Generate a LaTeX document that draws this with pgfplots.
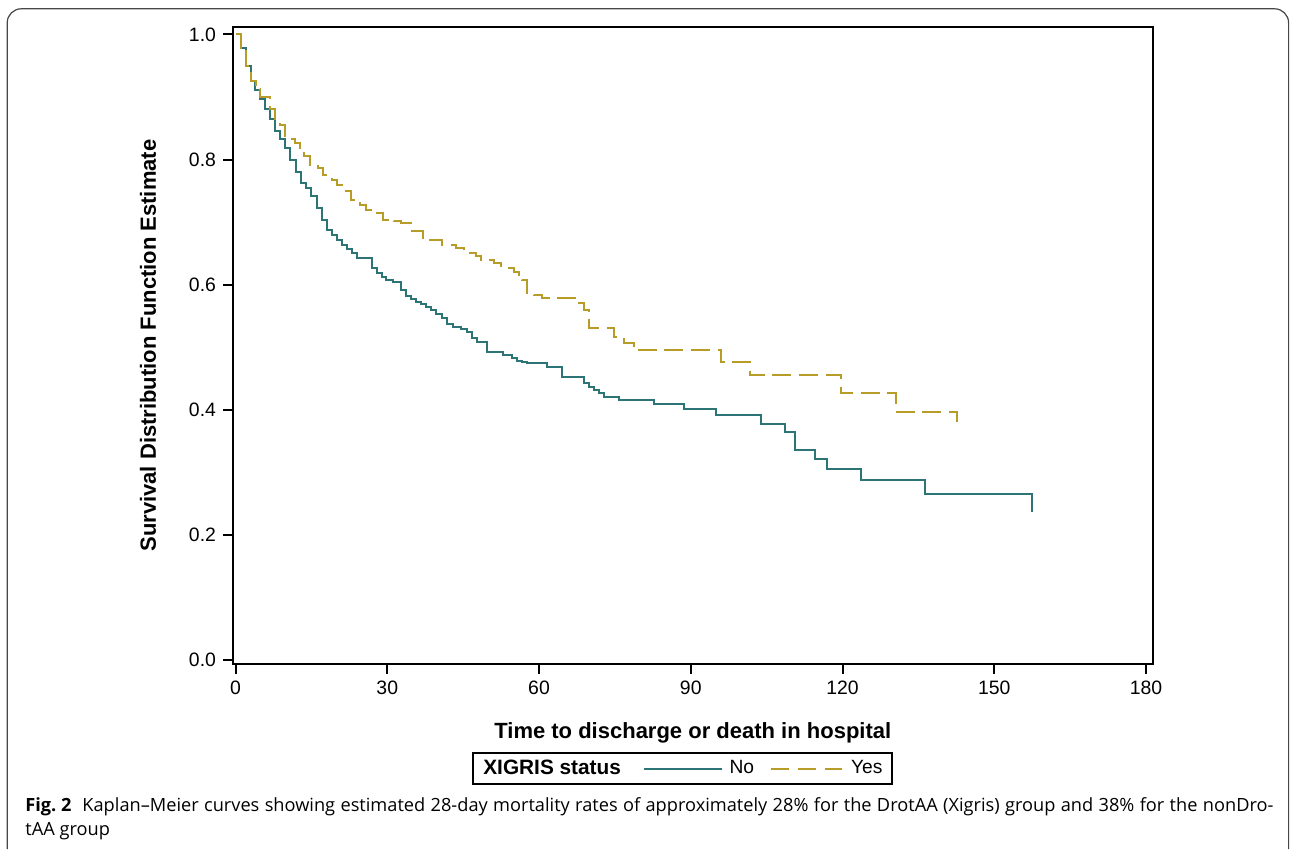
\documentclass[border=0pt]{standalone}
\usepackage{pgfplots}
\pgfplotsset{compat=1.18}
\usepackage{pgfplotstable}
\usepackage{fontspec}
\setmainfont{Liberation Sans}
\newfontfamily\capfont{Open Sans}
\definecolor{tealc}{RGB}{44,116,118}
\definecolor{goldc}{RGB}{184,156,40}
\definecolor{framec}{RGB}{70,70,70}
\pgfplotsset{
  nolegimg/.style={legend image code/.code={\draw[##1] (0pt,0pt) -- (38.8pt,0pt);}},
  yeslegimg/.style={legend image code/.code={\draw[##1, dash pattern=on 9pt off 4.5pt] (0pt,0pt) -- (35.5pt,0pt);}},
}

\pgfplotstableread{
t s
0 1.000
1.1 0.979
2.1 0.949
3.1 0.925
3.9 0.911
4.9 0.896
5.9 0.880
6.8 0.864
7.8 0.845
8.8 0.833
9.8 0.819
10.8 0.800
12.0 0.780
13.0 0.763
14.0 0.755
15.0 0.742
16.1 0.722
17.0 0.704
18.0 0.688
19.0 0.680
20.0 0.672
21.0 0.664
22.0 0.657
23.0 0.650
24.0 0.643
27.0 0.627
28.0 0.619
29.0 0.612
29.8 0.608
31.2 0.604
32.7 0.592
33.7 0.582
34.7 0.577
35.7 0.573
36.6 0.569
37.6 0.564
38.6 0.559
39.6 0.553
40.9 0.547
41.9 0.537
43.0 0.533
44.5 0.529
45.8 0.525
46.8 0.515
47.8 0.508
49.8 0.492
52.8 0.487
54.7 0.483
55.7 0.478
56.7 0.476
57.7 0.474
61.6 0.469
64.6 0.453
68.8 0.443
69.9 0.436
70.9 0.431
71.8 0.426
72.8 0.420
75.8 0.415
82.7 0.410
88.6 0.402
94.9 0.391
103.8 0.378
108.7 0.364
110.7 0.335
114.5 0.321
116.9 0.306
123.7 0.288
136.4 0.266
157.4 0.236
}\noData

\pgfplotstableread{
t s
0 1.000
1.1 0.979
2.1 0.949
3.1 0.925
4.0 0.912
4.9 0.900
6.8 0.881
7.8 0.864
8.8 0.855
9.8 0.837
10.8 0.833
11.8 0.827
12.8 0.819
13.5 0.805
14.8 0.792
16.3 0.786
17.2 0.776
19.0 0.768
20.0 0.759
21.9 0.749
22.8 0.736
23.8 0.733
24.7 0.728
25.7 0.720
27.8 0.715
29.1 0.704
31.4 0.701
32.7 0.698
34.7 0.686
37.0 0.675
38.3 0.672
40.9 0.664
43.5 0.658
45.2 0.653
45.9 0.651
47.5 0.645
48.5 0.640
51.0 0.635
52.4 0.629
53.7 0.627
55.0 0.620
56.0 0.613
56.7 0.608
57.7 0.587
59.0 0.584
60.5 0.579
68.0 0.571
68.9 0.560
69.9 0.530
74.9 0.516
76.8 0.507
78.7 0.495
95.9 0.476
101.8 0.455
119.7 0.426
130.5 0.397
142.7 0.369
}\yesData

\begin{document}
\begin{tikzpicture}
\useasboundingbox (0,0) rectangle (645pt,-425pt);
\draw[framec, line width=0.6pt, rounded corners=7pt] (3.6pt,-424.6pt) -- (3.6pt,-4.4pt) -- (644.3pt,-4.4pt) -- (644.3pt,-424.6pt);
\begin{axis}[
  at={(116.5pt,-13.6pt)}, anchor=north west,
  scale only axis, width=459.8pt, height=318.4pt,
  xmin=-0.5, xmax=181.3, ymin=-0.0064, ymax=1.0115,
  xtick={0,30,...,180}, ytick={0,0.2,...,1.0},
  xtick pos=left, ytick pos=left,
  tick align=outside, major tick length=5pt,
  axis line style={black, line width=1pt},
  every tick/.style={black, line width=1pt},
  tick label style={font=\fontsize{9.7}{11}\selectfont},
  /pgf/number format/assume math mode=true,
  yticklabel style={/pgf/number format/.cd, fixed, fixed zerofill, precision=1},
  xticklabel style={/pgf/number format/.cd, fixed, precision=0},
  xlabel={Time to discharge or death in hospital},
  ylabel={Survival Distribution Function Estimate},
  label style={font=\bfseries\fontsize{11}{13}\selectfont},
  xlabel style={at={(axis description cs:0.5,-0.1075)}, anchor=center},
  ylabel style={at={(axis description cs:-0.0924,0.5)}, anchor=center},
  legend columns=3,
  legend style={at={(axis description cs:0.4892,-0.1641)}, anchor=center,
    draw=black, line width=1pt, inner xsep=3pt, inner ysep=1.5pt,
    font=\fontsize{9.6}{11}\selectfont,
    /tikz/every even column/.append style={column sep=6pt}},
  legend cell align=left,
]
\addlegendimage{empty legend}
\addlegendentry{\fontsize{10.4}{12}\selectfont\bfseries XIGRIS status\rule{3pt}{0pt}}
\addplot[const plot, tealc, line width=1pt, nolegimg]
  table[x=t, y=s] {\noData};
\addlegendentry{\rule{1.5pt}{0pt}No}
\addplot[const plot, goldc, line width=1pt, dash pattern=on 9.5pt off 3.8pt, yeslegimg]
  table[x=t, y=s] {\yesData};
\addlegendentry{\rule{2pt}{0pt}Yes}
\end{axis}
\node[anchor=base west, inner sep=0pt] at (12.5pt,-405.5pt) {\capfont\fontsize{9.1}{12}\selectfont\makebox[624pt][s]{\mbox{\textbf{Fig.~2}}\hspace{0.6em}Kaplan–Meier curves showing estimated 28-day mortality rates of approximately 28\% for the DrotAA (Xigris) group and 38\% for the nonDro-}};
\node[anchor=base west, inner sep=0pt] at (12.5pt,-417.5pt) {\capfont\fontsize{9.1}{12}\selectfont tAA group};
\end{tikzpicture}
\end{document}
